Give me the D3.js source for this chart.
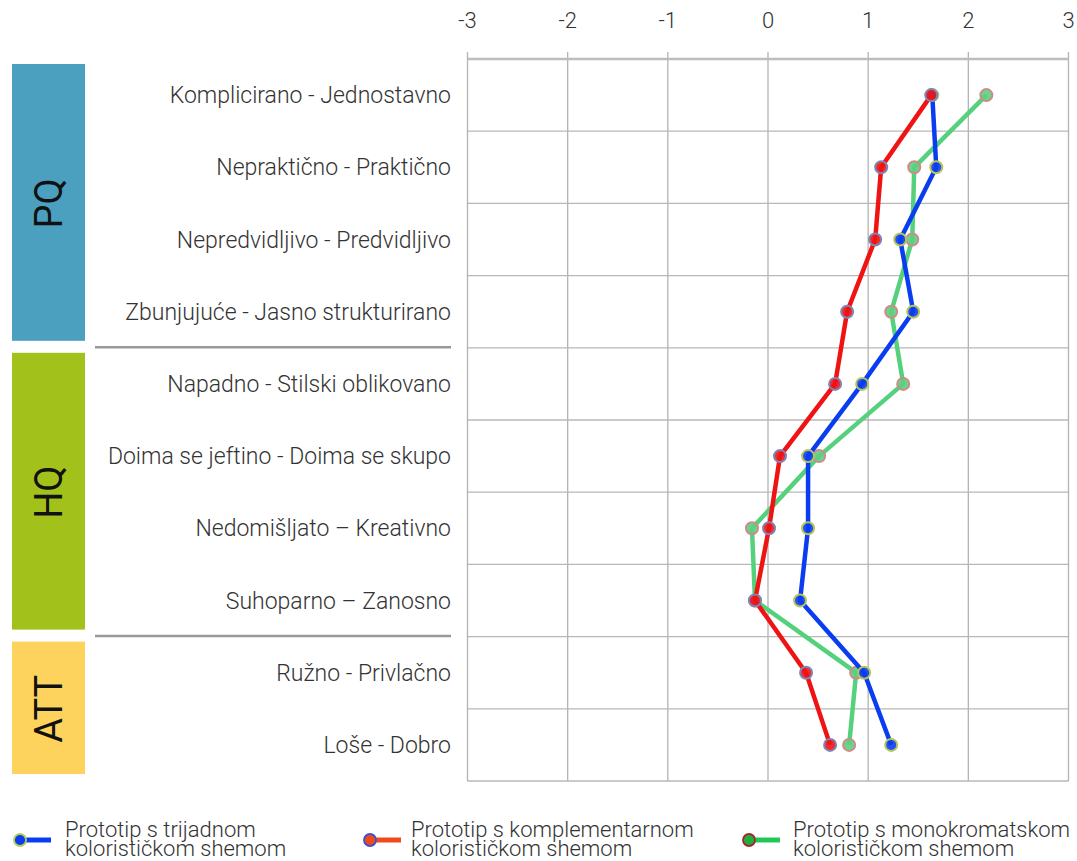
<!DOCTYPE html>
<html>
<head>
<meta charset="utf-8">
<script src="https://cdn.jsdelivr.net/npm/d3@7"></script>
<style>
  body { margin: 0; background: #fff; }
  text { font-family: Roboto, "Open Sans", sans-serif; }
</style>
</head>
<body>
<svg width="1077" height="861"></svg>
<script>
// categories, top to bottom
var categories = [
  "Komplicirano - Jednostavno",
  "Nepraktično - Praktično",
  "Nepredvidljivo - Predvidljivo",
  "Zbunjujuće - Jasno strukturirano",
  "Napadno - Stilski oblikovano",
  "Doima se jeftino - Doima se skupo",
  "Nedomišljato – Kreativno",
  "Suhoparno – Zanosno",
  "Ružno - Privlačno",
  "Loše - Dobro"
];
var ticks = [-3, -2, -1, 0, 1, 2, 3];

var trijadni = [1.64, 1.68, 1.32, 1.45, 0.94, 0.40, 0.40, 0.32, 0.96, 1.23];
var komplementarni = [1.63, 1.13, 1.07, 0.79, 0.67, 0.12, 0.01, -0.13, 0.38, 0.62];
var monokromatski = [2.18, 1.46, 1.44, 1.23, 1.35, 0.51, -0.16, -0.13, 0.88, 0.81];

var seriesNames = [
  ["Prototip s trijadnom", "kolorističkom shemom"],
  ["Prototip s komplementarnom", "kolorističkom shemom"],
  ["Prototip s monokromatskom", "kolorističkom shemom"]
];

var groups = [
  { name: "PQ", first: 0, last: 3, color: "#4b9fbf" },
  { name: "HQ", first: 4, last: 7, color: "#a3c11b" },
  { name: "ATT", first: 8, last: 9, color: "#fdd35d" }
];

var svg = d3.select("svg");

var x = d3.scaleLinear().domain([-3, 3]).range([467.5, 1068.5]);
var y = d3.scaleBand().domain(categories).range([59, 781]).padding(0);
function cy(c) { return y(c) + y.bandwidth() / 2; }

// grid
var grid = svg.append("g");
grid.selectAll(".vline")
    .data(ticks)
    .enter().append("line")
    .attr("x1", function(d) { return x(d); })
    .attr("x2", function(d) { return x(d); })
    .attr("y1", 52)
    .attr("y2", 781)
    .attr("stroke", "#b3b3b3")
    .attr("stroke-width", 1.3);

var hlines = categories.map(function(c) { return y(c); }).concat([781]);
grid.selectAll(".hline")
    .data(hlines)
    .enter().append("line")
    .attr("x1", 467.5)
    .attr("x2", 1068.5)
    .attr("y1", function(d) { return d; })
    .attr("y2", function(d) { return d; })
    .attr("stroke", function(d, i) { return i == 0 ? "#bdbdbd" : "#b8b8b8"; })
    .attr("stroke-width", function(d, i) { return i == 0 ? 2.5 : 1.3; });

// top axis labels
svg.append("g").selectAll("text")
    .data(ticks)
    .enter().append("text")
    .attr("x", function(d) { return x(d); })
    .attr("y", 28)
    .attr("text-anchor", "middle")
    .attr("font-size", 22)
    .attr("font-weight", 300)
    .attr("fill", "#333")
    .text(function(d) { return d; });

// category labels
svg.append("g").selectAll("text")
    .data(categories)
    .enter().append("text")
    .attr("x", 451)
    .attr("y", function(d) { return cy(d) + 8; })
    .attr("text-anchor", "end")
    .attr("font-size", 23)
    .attr("font-weight", 300)
    .attr("fill", "#333")
    .text(function(d) { return d; });

// group boxes
var gb = svg.append("g").selectAll("g")
    .data(groups)
    .enter().append("g");

gb.append("rect")
    .attr("x", 12)
    .attr("width", 73)
    .attr("y", function(d) { return y(categories[d.first]) + 5; })
    .attr("height", function(d) { return y(categories[d.last]) + y.bandwidth() - y(categories[d.first]) - 12; })
    .attr("fill", function(d) { return d.color; });

gb.append("text")
    .attr("transform", function(d) {
        var mid = (y(categories[d.first]) + y(categories[d.last]) + y.bandwidth()) / 2;
        return "translate(62," + mid + ") rotate(-90)";
    })
    .attr("text-anchor", "middle")
    .attr("font-size", 38)
    .attr("fill", "#111")
    .text(function(d) { return d.name; });

// group separators
svg.append("g").selectAll("line")
    .data(groups.slice(1))
    .enter().append("line")
    .attr("x1", 95)
    .attr("x2", 451)
    .attr("y1", function(d) { return y(categories[d.first]) - 0.5; })
    .attr("y2", function(d) { return y(categories[d.first]) - 0.5; })
    .attr("stroke", "#999")
    .attr("stroke-width", 2.5);

// series
var series = [
  { vals: monokromatski, line: "#55d17d", fill: "#5ccf80", stroke: "#d08a8a" },
  { vals: trijadni, line: "#0a3df0", fill: "#0a3df0", stroke: "#b7c45a" },
  { vals: komplementarni, line: "#f01313", fill: "#f01313", stroke: "#7d86b8" }
];

var line = d3.line()
    .x(function(d) { return x(d.v); })
    .y(function(d) { return cy(d.c); });

series.forEach(function(s) {
    var pts = s.vals.map(function(v, i) { return { v: v, c: categories[i] }; });
    var g = svg.append("g");
    g.append("path")
        .datum(pts)
        .attr("d", line)
        .attr("fill", "none")
        .attr("stroke", s.line)
        .attr("stroke-width", 4.5)
        .attr("stroke-linejoin", "round");
    g.selectAll("circle")
        .data(pts)
        .enter().append("circle")
        .attr("cx", function(d) { return x(d.v); })
        .attr("cy", function(d) { return cy(d.c); })
        .attr("r", 6)
        .attr("fill", s.fill)
        .attr("fill-opacity", 0.9)
        .attr("stroke", s.stroke)
        .attr("stroke-width", 2);
});

// legend
var legendItems = [
  { name: seriesNames[0], x: 20, tx: 45, line: "#0a3df0", fill: "#0a3df0", stroke: "#b9cc55" },
  { name: seriesNames[1], x: 370, tx: 41, line: "#f04a1c", fill: "#f04a1c", stroke: "#4050c8" },
  { name: seriesNames[2], x: 749, tx: 44, line: "#22c855", fill: "#1fae3f", stroke: "#a02828" }
];

var lg = svg.append("g").selectAll("g")
    .data(legendItems)
    .enter().append("g")
    .attr("transform", function(d) { return "translate(" + d.x + ",840)"; });

lg.append("line")
    .attr("x1", 3).attr("x2", 31)
    .attr("y1", 0).attr("y2", 0)
    .attr("stroke", function(d) { return d.line; })
    .attr("stroke-width", 5);

lg.append("circle")
    .attr("r", 6)
    .attr("fill", function(d) { return d.fill; })
    .attr("stroke", function(d) { return d.stroke; })
    .attr("stroke-width", 1.8);

var lt = lg.append("text")
    .attr("font-size", 22)
    .attr("font-weight", 300)
    .attr("fill", "#333");
lt.append("tspan")
    .attr("x", function(d) { return d.tx; }).attr("y", -3)
    .text(function(d) { return d.name[0]; });
lt.append("tspan")
    .attr("x", function(d) { return d.tx; }).attr("y", 16)
    .text(function(d) { return d.name[1]; });
</script>
</body>
</html>
